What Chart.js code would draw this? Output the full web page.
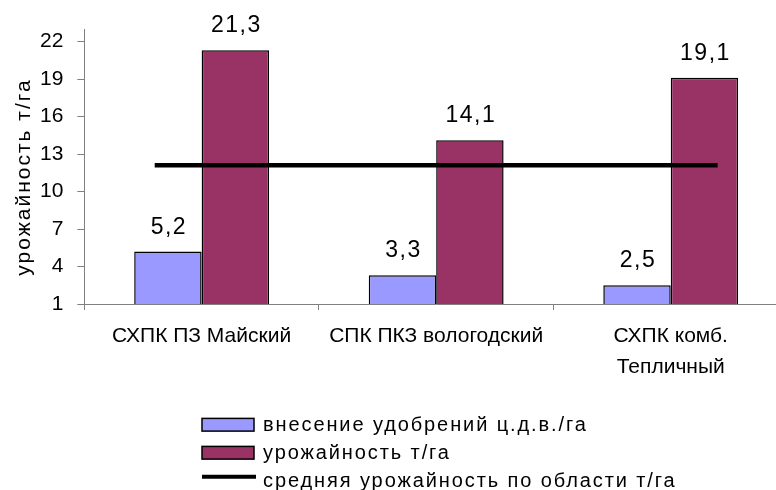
<!DOCTYPE html>
<html>
<head>
<meta charset="utf-8">
<script src="https://cdn.jsdelivr.net/npm/chart.js@4.4.1/dist/chart.umd.min.js"></script>
<style>
  html, body { margin: 0; padding: 0; background: #fff; overflow: hidden; }
  #wrap { width: 800px; height: 490px; }
</style>
</head>
<body>
<div id="wrap"><canvas id="c" width="800" height="490"></canvas></div>
<script>
// Farms compared
const farms = [
  'СХПК ПЗ Майский',
  'СПК ПКЗ вологодский',
  ['СХПК комб.', 'Тепличный']
];
// Fertilizer applied, c a.i./ha
const fertilizer = [5.2, 3.3, 2.5];
// Yield, t/ha
const yieldPerHa = [21.3, 14.1, 19.1];
// Regional average yield, t/ha, drawn as a horizontal line across the groups
const regionalAverage = 12.1;
// How far the average line runs past the outer groups, as a share of one group's slot
const averageOverhang = 0.2;
// Value axis ticks
const yTicks = [1, 4, 7, 10, 13, 16, 19, 22];

const seriesNames = [
  'внесение удобрений ц.д.в./га',
  'урожайность т/га',
  'средняя урожайность по области т/га'
];
const yTitle = 'урожайность т/га';

const FONT = '"Liberation Sans", Arial, sans-serif';
const fmt = v => v.toFixed(1).replace('.', ',');

// Stretch the average line a little beyond the first and last group centres
const lineOverhang = {
  id: 'lineOverhang',
  afterDatasetsUpdate(chart) {
    const xs = chart.scales.x;
    const slot = xs.width / chart.data.labels.length;
    chart.data.datasets.forEach((ds, i) => {
      if (ds.type !== 'line') return;
      const pts = chart.getDatasetMeta(i).data;
      if (!pts.length) return;
      pts[0].x -= slot * averageOverhang;
      pts[pts.length - 1].x += slot * averageOverhang;
    });
  }
};

// Value labels above each bar
const barLabels = {
  id: 'barLabels',
  afterDatasetsDraw(chart) {
    const ctx = chart.ctx;
    ctx.save();
    ctx.font = '23px ' + FONT;
    ctx.letterSpacing = '1.5px';
    ctx.fillStyle = '#000';
    ctx.textAlign = 'center';
    ctx.textBaseline = 'alphabetic';
    chart.data.datasets.forEach((ds, i) => {
      if (ds.type !== 'bar') return;
      chart.getDatasetMeta(i).data.forEach((el, j) => {
        ctx.fillText(fmt(ds.data[j]), el.x + 1, el.y - 18);
      });
    });
    ctx.restore();
  }
};

// Rotated value-axis title
const axisTitle = {
  id: 'axisTitle',
  afterDraw(chart) {
    const ctx = chart.ctx;
    ctx.save();
    ctx.translate(24, 177);
    ctx.rotate(-Math.PI / 2);
    ctx.font = '21px ' + FONT;
    ctx.letterSpacing = '2px';
    ctx.fillStyle = '#000';
    ctx.textAlign = 'center';
    ctx.textBaseline = 'middle';
    ctx.fillText(yTitle, 0, 0);
    ctx.restore();
  }
};

// Legend listed in a left-aligned column below the axis
const columnLegend = {
  id: 'columnLegend',
  afterDraw(chart) {
    const ctx = chart.ctx;
    const x0 = 202, y0 = 425.2, step = 28;
    ctx.save();
    ctx.font = '20px ' + FONT;
    ctx.letterSpacing = '1.9px';
    ctx.textBaseline = 'middle';
    ctx.textAlign = 'left';
    chart.data.datasets.forEach((ds, i) => {
      const y = y0 + i * step;
      if (ds.type === 'bar') {
        ctx.fillStyle = ds.backgroundColor;
        ctx.fillRect(x0, y - 6.8, 52, 12.7);
        ctx.strokeStyle = '#000';
        ctx.lineWidth = 1.5;
        ctx.strokeRect(x0, y - 6.8, 52, 12.7);
      } else {
        ctx.strokeStyle = ds.borderColor;
        ctx.lineWidth = 4;
        ctx.beginPath();
        ctx.moveTo(x0, y - 4.5);
        ctx.lineTo(x0 + 54, y - 4.5);
        ctx.stroke();
      }
      ctx.fillStyle = '#000';
      ctx.fillText(ds.label, x0 + 61, y);
    });
    ctx.restore();
  }
};

new Chart(document.getElementById('c'), {
  type: 'bar',
  data: {
    labels: farms,
    datasets: [
      {
        type: 'bar',
        label: seriesNames[0],
        data: fertilizer,
        backgroundColor: '#9999FF',
        borderColor: '#000',
        borderWidth: 1.5,
        order: 1
      },
      {
        type: 'bar',
        label: seriesNames[1],
        data: yieldPerHa,
        backgroundColor: '#993366',
        borderColor: '#000',
        borderWidth: 1.5,
        order: 1
      },
      {
        type: 'line',
        label: seriesNames[2],
        data: farms.map(() => regionalAverage),
        borderColor: '#000',
        borderWidth: 4.5,
        borderCapStyle: 'butt',
        pointRadius: 0,
        order: 0
      }
    ]
  },
  options: {
    responsive: false,
    animation: false,
    layout: { padding: { left: 26, right: 12, top: 29, bottom: 96 } },
    categoryPercentage: 0.575,
    barPercentage: 1,
    plugins: { legend: { display: false }, tooltip: { enabled: false } },
    scales: {
      x: {
        type: 'category',
        offset: true,
        afterFit(scale) {
          scale.paddingLeft = 0;
          scale.paddingRight = 0;
        },
        grid: {
          offset: true,
          drawOnChartArea: false,
          drawTicks: true,
          tickLength: 6,
          color: '#808080'
        },
        border: { color: '#808080', width: 1 },
        ticks: {
          color: '#000',
          font: { family: FONT, size: 21, lineHeight: 1.476 },
          padding: 11,
          maxRotation: 0,
          autoSkip: false
        }
      },
      y: {
        min: 1,
        max: 23,
        afterBuildTicks(axis) {
          axis.ticks = yTicks.map(v => ({ value: v }));
        },
        grid: {
          drawOnChartArea: false,
          drawTicks: true,
          tickLength: 7,
          color: '#808080'
        },
        border: { color: '#808080', width: 1 },
        ticks: {
          color: '#000',
          font: { family: FONT, size: 21 },
          padding: 14
        }
      }
    }
  },
  plugins: [lineOverhang, barLabels, axisTitle, columnLegend]
});
</script>
</body>
</html>
